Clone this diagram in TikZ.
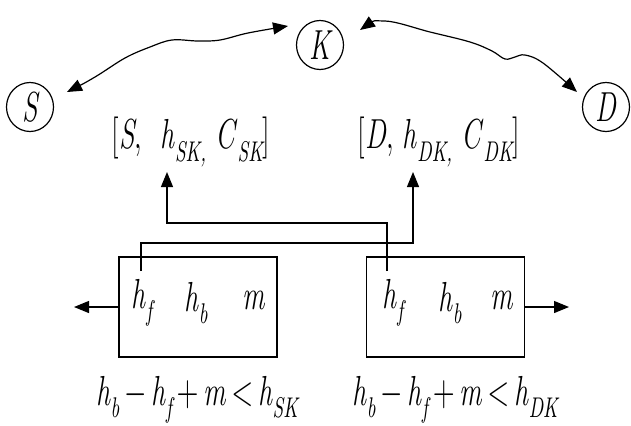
\documentclass[tikz,border=0pt]{standalone}
\usepackage{fontspec}
\usetikzlibrary{shapes.geometric,arrows.meta}
\newcommand\vs[1]{\scalebox{1}[1.5]{#1}}
\newcommand\sbs[1]{\raisebox{-0.3em}{\fontsize{9.5}{10}\selectfont\itshape #1}}
\newcommand\op[1]{$\mkern3mu#1\mkern3mu$}
\begin{document}
\begin{tikzpicture}[x=0.5pt,y=-0.5pt,
  every node/.style={font=\fontsize{14}{15}\selectfont},
  circ/.style={draw,ellipse,minimum width=23.5pt,minimum height=24.5pt,inner sep=0pt},
  box/.style={draw,minimum width=79pt,minimum height=50pt,inner sep=0pt},
  arr/.style={-{Triangle[length=7.5pt,width=6pt]}},
  darr/.style={{Triangle[length=7.5pt,width=6pt]}-{Triangle[length=7.5pt,width=6pt]}},
  line width=0.6pt]
\useasboundingbox (0,0) rectangle (631,425);
% ellipses
\node[circ] (S) at (30,107) {\vs{\itshape S}};
\node[circ] (K) at (320,45) {\vs{\itshape K}};
\node[circ] (D) at (606,107) {\vs{\itshape D}};
% labels
\node (lab1) at (191,142) {\vs{[\textit{S}, \ \textit{h}\sbs{SK,}\ \textit{C}\sbs{SK}]}};
\node (lab2) at (439,142) {\vs{[\textit{D}, \textit{h}\sbs{DK,}\ \textit{C}\sbs{DK}]}};
% boxes
\node[box] (bL) at (198,307) {};
\node[box] (bR) at (445.5,307) {};
\node (hfL) at (142,303) {\vs{\textit{h}\sbs{f}}};
\node (hbL) at (196,303) {\vs{\textit{h}\sbs{b}}};
\node (mL) at (254,300) {\vs{\textit{m}}};
\node (hfR) at (393,303) {\vs{\textit{h}\sbs{f}}};
\node (hbR) at (450,303) {\vs{\textit{h}\sbs{b}}};
\node (mR) at (502,300) {\vs{\textit{m}}};
% formulas
\node (fL) at (197,400) {\vs{\textit{h}\sbs{b}\op{-}\textit{h}\sbs{f}\op{+}\textit{m}\op{<}\textit{h}\sbs{SK}}};
\node (fR) at (455,400) {\vs{\textit{h}\sbs{b}\op{-}\textit{h}\sbs{f}\op{+}\textit{m}\op{<}\textit{h}\sbs{DK}}};
% coordinates
\coordinate (sk1) at (67,92);
\coordinate (sk2) at (288,26);
\coordinate (kd1) at (360,30);
\coordinate (kd2) at (577,92);
\coordinate (t1) at (167,172);
\coordinate (t2) at (413,172);
\coordinate (r1) at (387,271);
\coordinate (l1) at (141,271);
\coordinate (oL) at (74,307);
\coordinate (oR) at (569,307);
% wavy arrows
\draw[darr] plot[smooth,tension=0.6] coordinates {(sk1) (95,77) (125,58) (150,47) (172,40) (198,41) (220,40) (248,33) (sk2)};
\draw[darr] plot[smooth,tension=0.6] coordinates {(kd1) (385,21) (430,32) (470,42) (492,51) (505,59) (515,57) (525,55) (543,63) (kd2)};
% connectors
\draw[arr] (r1) -- (387,223) -| (t1);
\draw[arr] (l1) -- (141,243) -| (t2);
\draw[arr] (bL.west) -- (oL);
\draw[arr] (bR.east) -- (oR);
\end{tikzpicture}
\end{document}
